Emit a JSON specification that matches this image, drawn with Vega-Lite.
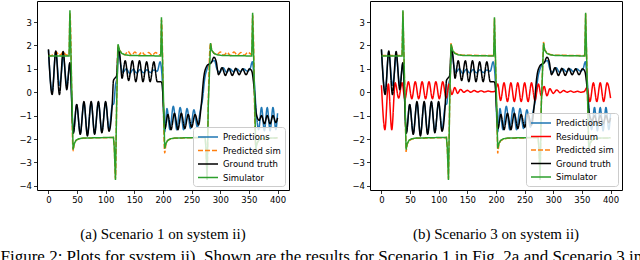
{
"$schema": "https://vega.github.io/schema/vega-lite/v6.json",
"padding": {"left": 0, "top": 0, "right": 0, "bottom": 0},
"datasets": {
"main": [
{"s":"Predictions","t":0,"v":1.8},{"s":"Predictions","t":6.4,"v":0.0},{"s":"Predictions","t":12.8,"v":1.72},{"s":"Predictions","t":19.2,"v":0.3},{"s":"Predictions","t":23,"v":0.9},{"s":"Predictions","t":25.6,"v":1.6},{"s":"Predictions","t":32,"v":0.3},{"s":"Predictions","t":37.3,"v":1.2},{"s":"Predictions","t":43.5,"v":-1.7},{"s":"Predictions","t":49.3,"v":-0.55},{"s":"Predictions","t":55.5,"v":-1.75},{"s":"Predictions","t":62,"v":-0.45},{"s":"Predictions","t":68,"v":-1.8},{"s":"Predictions","t":74.6,"v":-0.45},{"s":"Predictions","t":80.6,"v":-1.75},{"s":"Predictions","t":87.2,"v":-0.45},{"s":"Predictions","t":93.3,"v":-1.7},{"s":"Predictions","t":99.8,"v":-0.45},{"s":"Predictions","t":105.8,"v":-1.6},{"s":"Predictions","t":111.5,"v":-0.55},{"s":"Predictions","t":114,"v":-0.5},{"s":"Predictions","t":117,"v":0.3},{"s":"Predictions","t":120,"v":0.7},{"s":"Predictions","t":122.5,"v":1.8},{"s":"Predictions","t":126,"v":1.2},{"s":"Predictions","t":130,"v":0.85},{"s":"Predictions","t":136,"v":1.0},{"s":"Predictions","t":142,"v":0.8},{"s":"Predictions","t":148,"v":0.98},{"s":"Predictions","t":154,"v":0.82},{"s":"Predictions","t":160,"v":0.97},{"s":"Predictions","t":166,"v":0.83},{"s":"Predictions","t":172,"v":0.96},{"s":"Predictions","t":178,"v":0.84},{"s":"Predictions","t":184,"v":0.95},{"s":"Predictions","t":190,"v":0.9},{"s":"Predictions","t":195,"v":1.3},{"s":"Predictions","t":198,"v":0.8},{"s":"Predictions","t":203,"v":-1.7},{"s":"Predictions","t":207,"v":-0.7},{"s":"Predictions","t":212,"v":-1.6},{"s":"Predictions","t":218,"v":-0.6},{"s":"Predictions","t":224,"v":-1.6},{"s":"Predictions","t":230,"v":-0.65},{"s":"Predictions","t":236,"v":-1.6},{"s":"Predictions","t":242,"v":-0.7},{"s":"Predictions","t":248,"v":-1.55},{"s":"Predictions","t":254,"v":-0.75},{"s":"Predictions","t":260,"v":-1.5},{"s":"Predictions","t":265,"v":-0.8},{"s":"Predictions","t":269,"v":-0.3},{"s":"Predictions","t":273,"v":0.6},{"s":"Predictions","t":277,"v":1.0},{"s":"Predictions","t":281,"v":1.2},{"s":"Predictions","t":285,"v":1.3},{"s":"Predictions","t":290,"v":1.35},{"s":"Predictions","t":294,"v":1.0},{"s":"Predictions","t":299,"v":0.85},{"s":"Predictions","t":305,"v":1.05},{"s":"Predictions","t":311,"v":0.85},{"s":"Predictions","t":317,"v":1.0},{"s":"Predictions","t":323,"v":0.87},{"s":"Predictions","t":329,"v":1.0},{"s":"Predictions","t":335,"v":0.88},{"s":"Predictions","t":341,"v":1.0},{"s":"Predictions","t":347,"v":0.9},{"s":"Predictions","t":352,"v":1.0},{"s":"Predictions","t":356,"v":1.3},{"s":"Predictions","t":359,"v":0.6},{"s":"Predictions","t":363,"v":-0.9},{"s":"Predictions","t":367,"v":-1.6},{"s":"Predictions","t":372,"v":-0.65},{"s":"Predictions","t":377,"v":-1.65},{"s":"Predictions","t":382,"v":-0.65},{"s":"Predictions","t":387,"v":-1.65},{"s":"Predictions","t":392,"v":-0.65},{"s":"Predictions","t":397,"v":-1.6},{"s":"Predictions","t":400,"v":-0.9},
{"s":"Ground truth","t":0,"v":1.84},{"s":"Ground truth","t":6.4,"v":-0.1},{"s":"Ground truth","t":12.8,"v":1.76},{"s":"Ground truth","t":19.2,"v":-0.1},{"s":"Ground truth","t":25.6,"v":1.74},{"s":"Ground truth","t":32,"v":0.11},{"s":"Ground truth","t":37.3,"v":1.26},{"s":"Ground truth","t":43.5,"v":-1.75},{"s":"Ground truth","t":49.3,"v":-0.52},{"s":"Ground truth","t":55.5,"v":-1.8},{"s":"Ground truth","t":62,"v":-0.4},{"s":"Ground truth","t":68,"v":-1.87},{"s":"Ground truth","t":74.6,"v":-0.4},{"s":"Ground truth","t":80.6,"v":-1.8},{"s":"Ground truth","t":87.2,"v":-0.4},{"s":"Ground truth","t":93.3,"v":-1.73},{"s":"Ground truth","t":99.8,"v":-0.4},{"s":"Ground truth","t":105.8,"v":-1.67},{"s":"Ground truth","t":111.5,"v":-0.45},{"s":"Ground truth","t":113.5,"v":0.5},{"s":"Ground truth","t":116,"v":0.6},{"s":"Ground truth","t":119,"v":0.7},{"s":"Ground truth","t":122,"v":1.9},{"s":"Ground truth","t":125,"v":1.5},{"s":"Ground truth","t":128.5,"v":0.6},{"s":"Ground truth","t":134,"v":1.35},{"s":"Ground truth","t":140,"v":0.5},{"s":"Ground truth","t":146.5,"v":1.35},{"s":"Ground truth","t":152.5,"v":0.45},{"s":"Ground truth","t":159,"v":1.35},{"s":"Ground truth","t":165,"v":0.45},{"s":"Ground truth","t":171.5,"v":1.3},{"s":"Ground truth","t":177.5,"v":0.45},{"s":"Ground truth","t":184,"v":1.3},{"s":"Ground truth","t":190,"v":0.45},{"s":"Ground truth","t":196,"v":0.45},{"s":"Ground truth","t":198,"v":0.4},{"s":"Ground truth","t":203.5,"v":-1.55},{"s":"Ground truth","t":208.5,"v":-0.95},{"s":"Ground truth","t":214,"v":-1.6},{"s":"Ground truth","t":220,"v":-0.9},{"s":"Ground truth","t":226,"v":-1.6},{"s":"Ground truth","t":232,"v":-0.9},{"s":"Ground truth","t":238,"v":-1.55},{"s":"Ground truth","t":244,"v":-0.95},{"s":"Ground truth","t":250,"v":-1.5},{"s":"Ground truth","t":256,"v":-0.95},{"s":"Ground truth","t":262,"v":-1.4},{"s":"Ground truth","t":267,"v":-0.5},{"s":"Ground truth","t":271,"v":0.6},{"s":"Ground truth","t":276,"v":1.1},{"s":"Ground truth","t":280,"v":1.2},{"s":"Ground truth","t":284,"v":1.25},{"s":"Ground truth","t":289,"v":1.5},{"s":"Ground truth","t":293,"v":1.3},{"s":"Ground truth","t":297,"v":0.75},{"s":"Ground truth","t":303,"v":1.05},{"s":"Ground truth","t":309,"v":0.72},{"s":"Ground truth","t":315,"v":1.02},{"s":"Ground truth","t":321,"v":0.72},{"s":"Ground truth","t":327,"v":1.02},{"s":"Ground truth","t":333,"v":0.75},{"s":"Ground truth","t":339,"v":1.0},{"s":"Ground truth","t":345,"v":0.75},{"s":"Ground truth","t":351,"v":1.0},{"s":"Ground truth","t":355,"v":0.9},{"s":"Ground truth","t":359,"v":0.2},{"s":"Ground truth","t":363,"v":-0.95},{"s":"Ground truth","t":368,"v":-1.2},{"s":"Ground truth","t":372,"v":-1.0},{"s":"Ground truth","t":377,"v":-1.35},{"s":"Ground truth","t":382,"v":-1.0},{"s":"Ground truth","t":387,"v":-1.35},{"s":"Ground truth","t":392,"v":-1.0},{"s":"Ground truth","t":397,"v":-1.3},{"s":"Ground truth","t":400,"v":-1.1},
{"s":"Simulator","t":0,"v":1.55},{"s":"Simulator","t":36,"v":1.55},{"s":"Simulator","t":37.5,"v":3.5},{"s":"Simulator","t":43,"v":-2.45},{"s":"Simulator","t":45,"v":-2.2},{"s":"Simulator","t":48,"v":-2.06},{"s":"Simulator","t":53,"v":-1.99},{"s":"Simulator","t":60,"v":-1.96},{"s":"Simulator","t":113.5,"v":-1.93},{"s":"Simulator","t":115,"v":-2.4},{"s":"Simulator","t":117,"v":-3.75},{"s":"Simulator","t":119,"v":-0.6},{"s":"Simulator","t":121.5,"v":2.05},{"s":"Simulator","t":124,"v":1.8},{"s":"Simulator","t":128,"v":1.66},{"s":"Simulator","t":134,"v":1.6},{"s":"Simulator","t":142,"v":1.57},{"s":"Simulator","t":196,"v":1.55},{"s":"Simulator","t":197.3,"v":3.2},{"s":"Simulator","t":203,"v":-2.4},{"s":"Simulator","t":205,"v":-2.2},{"s":"Simulator","t":208,"v":-2.06},{"s":"Simulator","t":213,"v":-1.99},{"s":"Simulator","t":220,"v":-1.96},{"s":"Simulator","t":273.5,"v":-1.93},{"s":"Simulator","t":275,"v":-2.4},{"s":"Simulator","t":277,"v":-3.75},{"s":"Simulator","t":279,"v":-0.6},{"s":"Simulator","t":283,"v":2.1},{"s":"Simulator","t":285,"v":1.8},{"s":"Simulator","t":289,"v":1.66},{"s":"Simulator","t":295,"v":1.6},{"s":"Simulator","t":303,"v":1.57},{"s":"Simulator","t":355,"v":1.55},{"s":"Simulator","t":356.5,"v":3.4},{"s":"Simulator","t":362,"v":-2.45},{"s":"Simulator","t":364,"v":-2.2},{"s":"Simulator","t":367,"v":-2.06},{"s":"Simulator","t":372,"v":-1.99},{"s":"Simulator","t":380,"v":-1.96},{"s":"Simulator","t":400,"v":-1.95}
],
"psa": [
{"s":"Predicted sim","t":0,"v":1.6},{"s":"Predicted sim","t":4,"v":1.56},{"s":"Predicted sim","t":8,"v":1.6},{"s":"Predicted sim","t":14,"v":1.72},{"s":"Predicted sim","t":18,"v":1.58},{"s":"Predicted sim","t":22,"v":1.62},{"s":"Predicted sim","t":26,"v":1.74},{"s":"Predicted sim","t":30,"v":1.6},{"s":"Predicted sim","t":34,"v":1.58},{"s":"Predicted sim","t":36,"v":1.6},{"s":"Predicted sim","t":37.5,"v":3.4},{"s":"Predicted sim","t":43,"v":-2.5},{"s":"Predicted sim","t":45,"v":-2.22},{"s":"Predicted sim","t":48,"v":-2.07},{"s":"Predicted sim","t":53,"v":-2.0},{"s":"Predicted sim","t":60,"v":-1.97},{"s":"Predicted sim","t":113.5,"v":-1.94},{"s":"Predicted sim","t":115,"v":-2.4},{"s":"Predicted sim","t":117,"v":-3.7},{"s":"Predicted sim","t":119,"v":-0.6},{"s":"Predicted sim","t":121.5,"v":2.0},{"s":"Predicted sim","t":124,"v":1.8},{"s":"Predicted sim","t":128,"v":1.68},{"s":"Predicted sim","t":133,"v":1.6},{"s":"Predicted sim","t":139,"v":1.75},{"s":"Predicted sim","t":145,"v":1.58},{"s":"Predicted sim","t":151,"v":1.72},{"s":"Predicted sim","t":157,"v":1.57},{"s":"Predicted sim","t":163,"v":1.72},{"s":"Predicted sim","t":169,"v":1.58},{"s":"Predicted sim","t":175,"v":1.7},{"s":"Predicted sim","t":181,"v":1.58},{"s":"Predicted sim","t":187,"v":1.7},{"s":"Predicted sim","t":193,"v":1.6},{"s":"Predicted sim","t":196,"v":1.6},{"s":"Predicted sim","t":197.3,"v":3.1},{"s":"Predicted sim","t":203,"v":-2.6},{"s":"Predicted sim","t":205,"v":-2.25},{"s":"Predicted sim","t":208,"v":-2.08},{"s":"Predicted sim","t":213,"v":-2.0},{"s":"Predicted sim","t":220,"v":-1.97},{"s":"Predicted sim","t":273.5,"v":-1.94},{"s":"Predicted sim","t":275,"v":-2.4},{"s":"Predicted sim","t":277,"v":-3.7},{"s":"Predicted sim","t":279,"v":-0.6},{"s":"Predicted sim","t":283,"v":2.1},{"s":"Predicted sim","t":285,"v":1.82},{"s":"Predicted sim","t":289,"v":1.68},{"s":"Predicted sim","t":294,"v":1.6},{"s":"Predicted sim","t":300,"v":1.72},{"s":"Predicted sim","t":306,"v":1.58},{"s":"Predicted sim","t":312,"v":1.7},{"s":"Predicted sim","t":318,"v":1.57},{"s":"Predicted sim","t":324,"v":1.72},{"s":"Predicted sim","t":330,"v":1.58},{"s":"Predicted sim","t":336,"v":1.7},{"s":"Predicted sim","t":342,"v":1.58},{"s":"Predicted sim","t":348,"v":1.7},{"s":"Predicted sim","t":354,"v":1.62},{"s":"Predicted sim","t":355,"v":1.6},{"s":"Predicted sim","t":356.5,"v":3.3},{"s":"Predicted sim","t":362,"v":-2.45},{"s":"Predicted sim","t":364,"v":-2.2},{"s":"Predicted sim","t":367,"v":-2.07},{"s":"Predicted sim","t":372,"v":-2.0},{"s":"Predicted sim","t":380,"v":-1.97},{"s":"Predicted sim","t":400,"v":-1.96}
],
"psb": [
{"s":"Predicted sim","t":0,"v":1.57},{"s":"Predicted sim","t":36,"v":1.57},{"s":"Predicted sim","t":37.5,"v":3.45},{"s":"Predicted sim","t":43,"v":-2.55},{"s":"Predicted sim","t":45,"v":-2.22},{"s":"Predicted sim","t":48,"v":-2.07},{"s":"Predicted sim","t":53,"v":-2.0},{"s":"Predicted sim","t":60,"v":-1.97},{"s":"Predicted sim","t":113.5,"v":-1.94},{"s":"Predicted sim","t":115,"v":-2.4},{"s":"Predicted sim","t":117,"v":-3.7},{"s":"Predicted sim","t":119,"v":-0.6},{"s":"Predicted sim","t":121.5,"v":2.1},{"s":"Predicted sim","t":124,"v":1.82},{"s":"Predicted sim","t":128,"v":1.68},{"s":"Predicted sim","t":134,"v":1.61},{"s":"Predicted sim","t":142,"v":1.58},{"s":"Predicted sim","t":196,"v":1.57},{"s":"Predicted sim","t":197.3,"v":3.15},{"s":"Predicted sim","t":203,"v":-2.62},{"s":"Predicted sim","t":205,"v":-2.25},{"s":"Predicted sim","t":208,"v":-2.08},{"s":"Predicted sim","t":213,"v":-2.0},{"s":"Predicted sim","t":220,"v":-1.97},{"s":"Predicted sim","t":273.5,"v":-1.94},{"s":"Predicted sim","t":275,"v":-2.4},{"s":"Predicted sim","t":277,"v":-3.7},{"s":"Predicted sim","t":279,"v":-0.6},{"s":"Predicted sim","t":283,"v":2.15},{"s":"Predicted sim","t":285,"v":1.82},{"s":"Predicted sim","t":289,"v":1.68},{"s":"Predicted sim","t":295,"v":1.61},{"s":"Predicted sim","t":303,"v":1.58},{"s":"Predicted sim","t":355,"v":1.57},{"s":"Predicted sim","t":356.5,"v":3.35},{"s":"Predicted sim","t":362,"v":-2.5},{"s":"Predicted sim","t":364,"v":-2.22},{"s":"Predicted sim","t":367,"v":-2.07},{"s":"Predicted sim","t":372,"v":-2.0},{"s":"Predicted sim","t":380,"v":-1.97},{"s":"Predicted sim","t":400,"v":-1.96}
],
"res": [
{"s":"Residuum","t":0,"v":0.3},{"s":"Residuum","t":6,"v":-1.6},{"s":"Residuum","t":12,"v":0.35},{"s":"Residuum","t":18,"v":-1.6},{"s":"Residuum","t":24,"v":0.4},{"s":"Residuum","t":30,"v":-0.25},{"s":"Residuum","t":36,"v":0.4},{"s":"Residuum","t":41,"v":-0.3},{"s":"Residuum","t":47,"v":0.45},{"s":"Residuum","t":53,"v":-0.28},{"s":"Residuum","t":59,"v":0.45},{"s":"Residuum","t":65,"v":-0.28},{"s":"Residuum","t":71,"v":0.45},{"s":"Residuum","t":77,"v":-0.28},{"s":"Residuum","t":83,"v":0.45},{"s":"Residuum","t":89,"v":-0.28},{"s":"Residuum","t":95,"v":0.45},{"s":"Residuum","t":101,"v":-0.28},{"s":"Residuum","t":107,"v":0.45},{"s":"Residuum","t":113,"v":-0.25},{"s":"Residuum","t":118,"v":0.35},{"s":"Residuum","t":123,"v":-0.1},{"s":"Residuum","t":128,"v":0.2},{"s":"Residuum","t":133,"v":-0.05},{"s":"Residuum","t":138,"v":0.12},{"s":"Residuum","t":144,"v":0.0},{"s":"Residuum","t":150,"v":0.08},{"s":"Residuum","t":156,"v":0.0},{"s":"Residuum","t":162,"v":0.07},{"s":"Residuum","t":168,"v":0.01},{"s":"Residuum","t":174,"v":0.06},{"s":"Residuum","t":180,"v":0.01},{"s":"Residuum","t":186,"v":0.05},{"s":"Residuum","t":192,"v":0.02},{"s":"Residuum","t":198,"v":0.03},{"s":"Residuum","t":203,"v":0.35},{"s":"Residuum","t":208,"v":-0.35},{"s":"Residuum","t":214,"v":0.4},{"s":"Residuum","t":220,"v":-0.4},{"s":"Residuum","t":226,"v":0.4},{"s":"Residuum","t":232,"v":-0.4},{"s":"Residuum","t":238,"v":0.4},{"s":"Residuum","t":244,"v":-0.4},{"s":"Residuum","t":250,"v":0.4},{"s":"Residuum","t":256,"v":-0.4},{"s":"Residuum","t":262,"v":0.4},{"s":"Residuum","t":268,"v":-0.35},{"s":"Residuum","t":274,"v":0.35},{"s":"Residuum","t":279,"v":-0.15},{"s":"Residuum","t":284,"v":0.25},{"s":"Residuum","t":289,"v":-0.15},{"s":"Residuum","t":294,"v":0.15},{"s":"Residuum","t":300,"v":-0.05},{"s":"Residuum","t":306,"v":0.1},{"s":"Residuum","t":312,"v":-0.02},{"s":"Residuum","t":318,"v":0.07},{"s":"Residuum","t":324,"v":0.0},{"s":"Residuum","t":330,"v":0.05},{"s":"Residuum","t":336,"v":0.0},{"s":"Residuum","t":342,"v":0.04},{"s":"Residuum","t":348,"v":0.0},{"s":"Residuum","t":354,"v":0.03},{"s":"Residuum","t":359,"v":0.2},{"s":"Residuum","t":364,"v":-0.4},{"s":"Residuum","t":370,"v":0.4},{"s":"Residuum","t":376,"v":-0.4},{"s":"Residuum","t":382,"v":0.4},{"s":"Residuum","t":388,"v":-0.4},{"s":"Residuum","t":394,"v":0.4},{"s":"Residuum","t":400,"v":-0.25}
]
},
"title": {"text": "Figure 2: Plots for system ii). Shown are the results for Scenario 1 in Fig. 2a and Scenario 3 in Fig. 2b.", "orient": "bottom", "anchor": "start", "font": "Liberation Serif", "fontSize": 17, "fontWeight": "normal", "color": "black", "offset": 6},
"config": {
"view": {"stroke": "black", "strokeWidth": 1},
"axis": {"domain": false, "grid": false, "tickColor": "black", "tickSize": 3.5, "tickWidth": 0.8, "labelFont": "DejaVu Sans", "labelFontSize": 8.5, "labelColor": "black", "labelPadding": 2, "title": null},
"axisY": {"minExtent": 36, "maxExtent": 36},
"legend": {"orient": "bottom-right", "title": null, "offset": 4, "fillColor": "rgba(255,255,255,0.8)", "strokeColor": "#cccccc", "padding": 4, "cornerRadius": 3, "labelFont": "DejaVu Sans", "labelFontSize": 8.5, "labelColor": "black", "symbolType": "M-1,0H3", "symbolSize": 100, "symbolStrokeWidth": 1.5, "labelOffset": 14, "rowPadding": 2.5},
"title": {"font": "Liberation Serif", "fontSize": 15, "fontWeight": "normal", "color": "black"},
"line": {"strokeWidth": 1.5, "interpolate": "monotone"}
},
"spacing": 43,
"resolve": {"scale": {"color": "independent", "strokeDash": "independent"}, "legend": {"color": "independent", "strokeDash": "independent"}},
"hconcat": [
{
"width": 252, "height": 189,
"title": {"text": "(a) Scenario 1 on system ii)", "orient": "bottom", "offset": 23, "anchor": "middle"},
"encoding": {
"x": {"field": "t", "type": "quantitative", "scale": {"domain": [-20, 420], "nice": false, "zero": false}, "axis": {"values": [0, 50, 100, 150, 200, 250, 300, 350, 400]}},
"y": {"field": "v", "type": "quantitative", "scale": {"domain": [-4.18, 3.9], "nice": false, "zero": false}, "axis": {"values": [-4, -3, -2, -1, 0, 1, 2, 3]}},
"color": {"field": "s", "type": "nominal", "scale": {"domain": ["Predictions", "Predicted sim", "Ground truth", "Simulator"], "range": ["#1f77b4", "#ff7f0e", "#000000", "#2ca02c"]}},
"strokeDash": {"field": "s", "type": "nominal", "scale": {"domain": ["Predictions", "Predicted sim", "Ground truth", "Simulator"], "range": [[1, 0], [5, 2], [1, 0], [1, 0]]}}
},
"layer": [
{"data": {"name": "main"}, "transform": [{"filter": "datum.s === 'Predictions'"}], "mark": "line"},
{"data": {"name": "psa"}, "mark": "line"},
{"data": {"name": "main"}, "transform": [{"filter": "datum.s === 'Ground truth'"}], "mark": "line"},
{"data": {"name": "main"}, "transform": [{"filter": "datum.s === 'Simulator'"}], "mark": {"type": "line", "interpolate": "linear"}},
{"data": {"values": [{"t": 150}]}, "mark": {"type": "rule", "color": "black", "strokeWidth": 1.2, "strokeDash": [4, 2.5]}, "encoding": {"x": {"field": "t", "type": "quantitative"}, "y": {"datum": -4.18}, "y2": {"datum": 3.9}, "color": {"value": "black"}, "strokeDash": {"value": [4, 2.5]}}}
]
},
{
"width": 252, "height": 189,
"title": {"text": "(b) Scenario 3 on system ii)", "orient": "bottom", "offset": 23, "anchor": "middle"},
"encoding": {
"x": {"field": "t", "type": "quantitative", "scale": {"domain": [-20, 420], "nice": false, "zero": false}, "axis": {"values": [0, 50, 100, 150, 200, 250, 300, 350, 400]}},
"y": {"field": "v", "type": "quantitative", "scale": {"domain": [-4.18, 3.9], "nice": false, "zero": false}, "axis": {"values": [-4, -3, -2, -1, 0, 1, 2, 3]}},
"color": {"field": "s", "type": "nominal", "scale": {"domain": ["Predictions", "Residuum", "Predicted sim", "Ground truth", "Simulator"], "range": ["#1f77b4", "#ff0000", "#ff7f0e", "#000000", "#2ca02c"]}},
"strokeDash": {"field": "s", "type": "nominal", "scale": {"domain": ["Predictions", "Residuum", "Predicted sim", "Ground truth", "Simulator"], "range": [[1, 0], [1, 0], [5, 2], [1, 0], [1, 0]]}}
},
"layer": [
{"data": {"name": "main"}, "transform": [{"filter": "datum.s === 'Predictions'"}], "mark": "line"},
{"data": {"name": "res"}, "mark": "line"},
{"data": {"name": "psb"}, "mark": {"type": "line", "interpolate": "linear"}},
{"data": {"name": "main"}, "transform": [{"filter": "datum.s === 'Ground truth'"}], "mark": "line"},
{"data": {"name": "main"}, "transform": [{"filter": "datum.s === 'Simulator'"}], "mark": {"type": "line", "interpolate": "linear"}},
{"data": {"values": [{"t": 150}]}, "mark": {"type": "rule", "color": "black", "strokeWidth": 1.2, "strokeDash": [4, 2.5]}, "encoding": {"x": {"field": "t", "type": "quantitative"}, "y": {"datum": -4.18}, "y2": {"datum": 3.9}, "color": {"value": "black"}, "strokeDash": {"value": [4, 2.5]}}}
]
}
]
}
